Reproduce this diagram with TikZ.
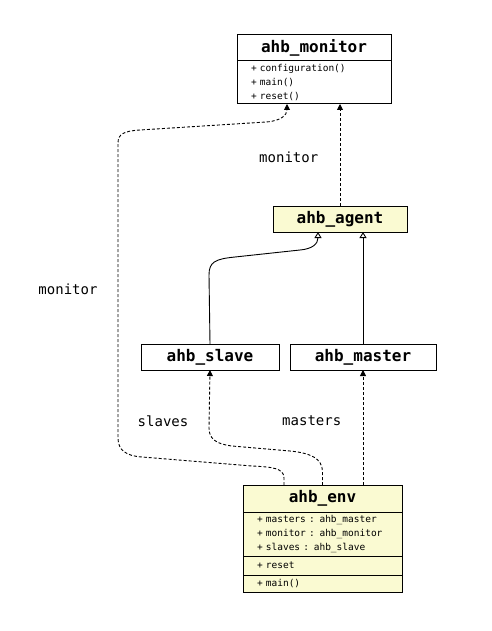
\documentclass[tikz,border=0pt]{standalone}
\usepackage{fontspec}
\setmonofont{DejaVu Sans Mono}[WordSpace={1,0,0}]
\usetikzlibrary{arrows.meta,calc}
\definecolor{classfill}{RGB}{250,250,210}
\tikzset{
  titlebox/.style={draw,line width=1pt,fill=white,inner sep=0pt,outer sep=0pt,minimum height=26pt,
    font=\ttfamily\bfseries\fontsize{16}{18}\selectfont},
  membox/.style={draw,line width=1pt,fill=white,inner xsep=14pt,inner ysep=0pt,outer sep=0pt,anchor=north,
    align=left,font=\ttfamily\fontsize{9.5}{14}\selectfont},
  dep/.style={line width=0.9pt,dash pattern=on 3pt off 2pt,-{Triangle[length=6pt,width=6pt]}},
  inh/.style={line width=0.9pt,-{Triangle[open,length=6pt,width=7pt]}},
  lbl/.style={font=\ttfamily\fontsize{14}{16}\selectfont}
}
\begin{document}
\begin{tikzpicture}[x=1pt,y=-1pt]
	\useasboundingbox (0,0) rectangle (491,631);
	% classes
	\node[titlebox,minimum width=154pt] (monitor) at (314,48) {ahb\_monitor};
	\node[membox,text width=126pt,minimum height=43pt] (monitorops) at (monitor.south)
		{+ configuration()\\+ main()\\+ reset()};
	\node[titlebox,minimum width=134pt,fill=classfill] (agent) at (340,219) {ahb\_agent};
	\node[titlebox,minimum width=138pt] (slave) at (210,357) {ahb\_slave};
	\node[titlebox,minimum width=146pt] (master) at (363,357) {ahb\_master};
	\node[titlebox,minimum width=159pt,minimum height=27pt,fill=classfill] (env) at (322.5,498.5) {ahb\_env};
	\node[membox,text width=131pt,minimum height=44pt,fill=classfill] (envattr) at (env.south)
		{+ masters : ahb\_master\\+ monitor : ahb\_monitor\\+ slaves : ahb\_slave};
	\node[membox,text width=131pt,minimum height=19pt,fill=classfill] (envreset) at (envattr.south) {+ reset};
	\node[membox,text width=131pt,minimum height=17pt,fill=classfill] (envmain) at (envreset.south) {+ main()};
	% relations
	\draw[dep] (agent.north) -- (agent.north |- monitorops.south)
		node[lbl,pos=0.48,left=18pt] (lblmon) {monitor};
	\draw[inh] (slave.north) -- (209,275) .. controls (209,262) and (215,259) .. (235,257)
		-- (300,250) .. controls (312,249) and (318,244) .. ($(agent.south west)+(45,0)$);
	\draw[inh] (master.north) -- (master.north |- agent.south);
	\draw[dep] (master.south |- env.north) -- (master.south)
		node[lbl,pos=0.56,left=18pt] (lblmasters) {masters};
	\draw[dep] (env.north) -- (322.5,472) .. controls (322.5,458) and (310,453) .. (290,451)
		-- (232,446) .. controls (215,444) and (209,438) .. (209,428) -- (slave.south);
	\node[lbl] (lblslaves) at (163,421) {slaves};
	\draw[dep] ($(env.north west)+(41,0)$) -- (284,478) .. controls (284,468) and (272,467) .. (252,466)
		-- (142,457) .. controls (126,456) and (118,450) .. (118,438) -- (118,143)
		.. controls (118,134) and (124,131) .. (140,130) -- (266,122)
		.. controls (281,121) and (287,115) .. ($(monitorops.south west)+(50,0)$);
	\node[lbl] (lblmonleft) at (68,289) {monitor};
\end{tikzpicture}
\end{document}
